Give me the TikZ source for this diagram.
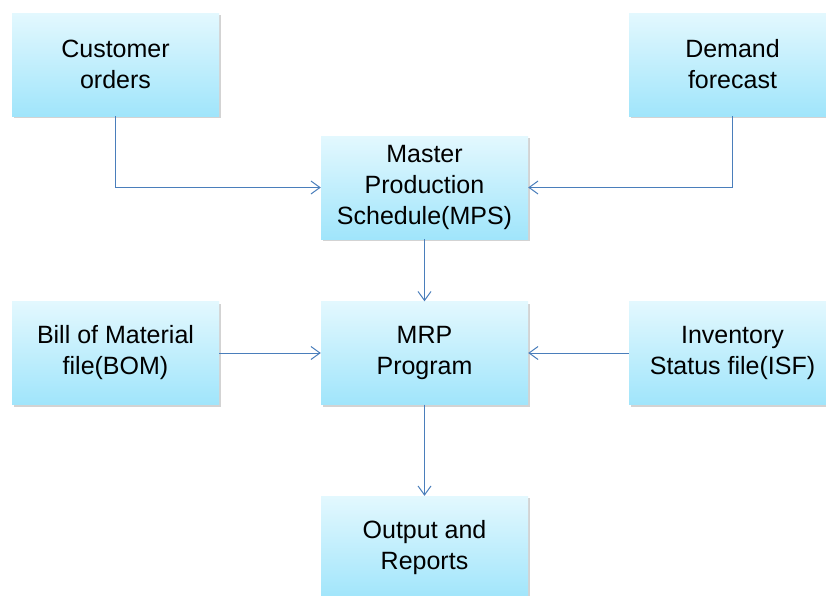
\documentclass[tikz,border=0pt]{standalone}
\usepackage{fontspec}
\setmainfont{Liberation Sans}
\usetikzlibrary{arrows.meta,shadows}
\definecolor{boxtop}{HTML}{E3F8FE}
\definecolor{boxbot}{HTML}{A0E5FB}
\definecolor{flow}{HTML}{4A7EBB}

\begin{document}
\begin{tikzpicture}[x=1pt,y=1pt,
    blk/.style={rectangle,minimum width=207pt,minimum height=103pt,inner sep=0pt,
      top color=boxtop,bottom color=boxbot,align=center,
      font=\fontsize{25}{31}\selectfont,
      drop shadow={shadow xshift=1.5pt,shadow yshift=-2pt,opacity=0.35}},
    link/.style={draw=flow,line width=1pt,-{Straight Barb[length=9pt,width=13pt]}}]
  \useasboundingbox (0,0) rectangle (826,-595);
  \node[blk] (cust) at (115.5,-64.5)  {Customer\\orders};
  \node[blk] (dem)  at (732.5,-64.5)  {Demand\\forecast};
  \node[blk] (mps)  at (424.5,-187.5) {Master\\Production\\Schedule(MPS)};
  \node[blk] (bom)  at (115.5,-353)   {Bill of Material\\file(BOM)};
  \node[blk] (mrp)  at (424.5,-353)   {MRP\\Program};
  \node[blk] (isf)  at (732.5,-353)   {Inventory\\Status file(ISF)};
  \node[blk] (out)  at (424.5,-547.5) {Output and\\Reports};

  \draw[link] (cust.south) |- (mps.west);
  \draw[link] (dem.south) |- (mps.east);
  \draw[link] (mps) -- (mrp);
  \draw[link] (bom) -- (mrp);
  \draw[link] (isf) -- (mrp);
  \draw[link] (mrp) -- (out);
\end{tikzpicture}
\end{document}
